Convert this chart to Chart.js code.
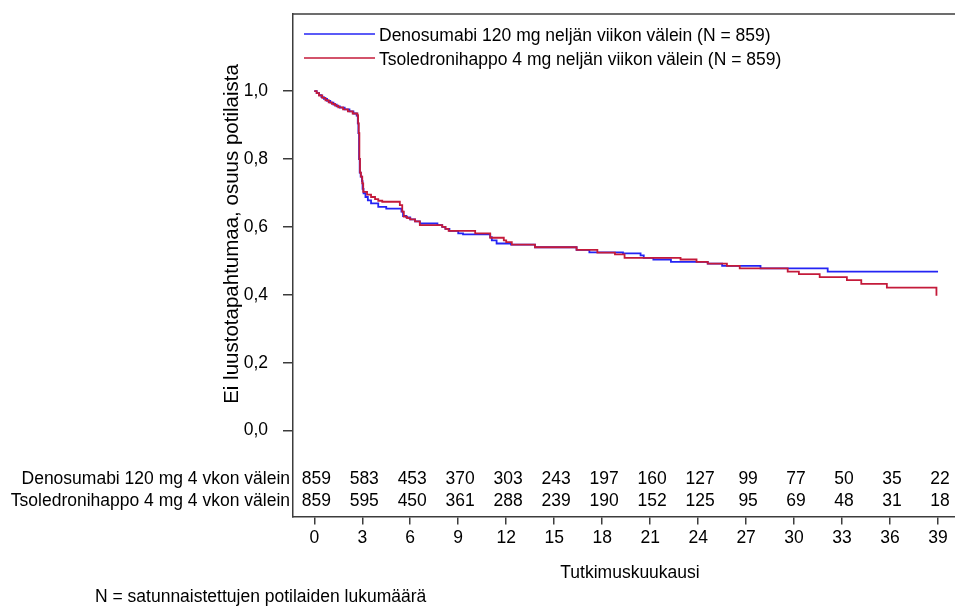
<!DOCTYPE html>
<html>
<head>
<meta charset="utf-8">
<script src="https://cdn.jsdelivr.net/npm/chart.js@4.4.1/dist/chart.umd.min.js"></script>
<style>
  html, body { margin: 0; padding: 0; background: #fff; }
  canvas { display: block; }
</style>
</head>
<body>
<canvas id="km" width="955" height="612"></canvas>
<script>
// Kaplan-Meier curves (month of step, survival after step)
const denoMonths = [0, 0.15, 0.3, 0.45, 0.6, 0.8, 1.0, 1.2, 1.4, 1.6, 1.9, 2.2, 2.45, 2.65, 2.72, 2.76, 2.8, 2.84, 2.9, 2.98, 3.02, 3.08,
  3.2, 3.35, 3.55, 4.0, 4.5, 5.45, 5.55, 5.75, 6.0, 6.3, 6.6, 7.7, 8.0, 8.2, 8.45, 9.0, 9.3, 11.0, 11.1, 11.4, 12.3, 13.8,
  16.4, 17.2, 19.3, 20.4, 20.6, 21.2, 22.3, 24.6, 25.5, 27.9, 32.1, 39.0];
const denoSurv = [1.0, 0.994, 0.988, 0.982, 0.977, 0.971, 0.966, 0.960, 0.955, 0.951, 0.946, 0.940, 0.934, 0.928, 0.905, 0.876, 0.80, 0.76, 0.748, 0.735, 0.712, 0.699,
  0.688, 0.678, 0.669, 0.659, 0.654, 0.645, 0.632, 0.628, 0.622, 0.616, 0.610, 0.605, 0.600, 0.594, 0.588, 0.581, 0.578, 0.570, 0.560, 0.551, 0.548, 0.540,
  0.532, 0.525, 0.522, 0.516, 0.509, 0.504, 0.497, 0.492, 0.485, 0.478, 0.468, 0.468];

const zolMonths = [0, 0.15, 0.3, 0.5, 0.7, 0.9, 1.1, 1.3, 1.5, 1.8, 2.1, 2.4, 2.7, 2.74, 2.78, 2.82, 2.86, 2.92, 3.0, 3.06,
  3.3, 3.55, 3.8, 4.0, 4.25, 5.35, 5.5, 5.6, 5.8, 6.0, 6.3, 6.6, 8.0, 8.2, 8.4, 10.06, 11.0, 11.85, 12.0, 12.35, 13.8,
  16.4, 17.7, 18.8, 19.4, 22.9, 23.9, 24.6, 25.8, 26.6, 29.6, 30.3, 31.6, 33.3, 34.2, 35.8, 38.9];
const zolSurv = [1.0, 0.994, 0.987, 0.980, 0.973, 0.967, 0.962, 0.957, 0.952, 0.946, 0.940, 0.934, 0.928, 0.905, 0.876, 0.80, 0.76, 0.748, 0.728, 0.703,
  0.695, 0.688, 0.682, 0.677, 0.674, 0.664, 0.645, 0.630, 0.626, 0.622, 0.616, 0.605, 0.600, 0.594, 0.588, 0.581, 0.568, 0.560, 0.555, 0.548, 0.540,
  0.532, 0.524, 0.519, 0.509, 0.504, 0.497, 0.492, 0.485, 0.478, 0.468, 0.461, 0.452, 0.443, 0.432, 0.421, 0.397];

// numbers at risk
const riskMonths = [0, 3, 6, 9, 12, 15, 18, 21, 24, 27, 30, 33, 36, 39];
const denoAtRisk = [859, 583, 453, 370, 303, 243, 197, 160, 127, 99, 77, 50, 35, 22];
const zolAtRisk = [859, 595, 450, 361, 288, 239, 190, 152, 125, 95, 69, 48, 31, 18];

const xTicks = [0, 3, 6, 9, 12, 15, 18, 21, 24, 27, 30, 33, 36, 39];
const yTicks = [0, 0.2, 0.4, 0.6, 0.8, 1.0];

const seriesNames = ["Denosumabi 120 mg neljän viikon välein (N = 859)", "Tsoledronihappo 4 mg neljän viikon välein (N = 859)"];
const riskNames = ["Denosumabi 120 mg 4 vkon välein", "Tsoledronihappo 4 mg 4 vkon välein"];

const FONT = "Liberation Sans, Arial, sans-serif";
const FSIZE = 17.5;
const BLUE = "#2424f4";
const RED = "#c41a3a";
const AXIS = "#3c3c3c";

function toPoints(xs, ys) {
    return xs.map((x, i) => ({ x: x, y: ys[i] }));
}

const decorations = {
    id: "decorations",
    afterDraw(chart) {
        const { ctx, chartArea, scales } = chart;
        const x = scales.x;
        ctx.save();

        // top frame line
        ctx.strokeStyle = AXIS;
        ctx.lineWidth = 1.5;
        ctx.beginPath();
        ctx.moveTo(chartArea.left, chartArea.top);
        ctx.lineTo(chartArea.right, chartArea.top);
        ctx.stroke();

        ctx.font = FSIZE + "px " + FONT;
        ctx.fillStyle = "#000";
        ctx.textBaseline = "middle";

        // legend inside plot
        const colors = [BLUE, RED];
        seriesNames.forEach((name, i) => {
            const ly = 34 + i * 24;
            ctx.strokeStyle = colors[i];
            ctx.lineWidth = 1.4;
            ctx.beginPath();
            ctx.moveTo(304, ly);
            ctx.lineTo(375, ly);
            ctx.stroke();
            ctx.textAlign = "left";
            ctx.fillText(name, 379, ly + 2);
        });

        // numbers at risk table
        const rows = [denoAtRisk, zolAtRisk];
        const rowY = [479, 501];
        rows.forEach((vals, r) => {
            ctx.textAlign = "right";
            ctx.fillText(riskNames[r], chartArea.left - 3, rowY[r]);
            ctx.textAlign = "center";
            vals.forEach((v, i) => {
                ctx.fillText(String(v), x.getPixelForValue(riskMonths[i]) + 2, rowY[r]);
            });
        });

        // axis titles
        ctx.textAlign = "center";
        ctx.fillText("Tutkimuskuukausi", 630, 573);
        ctx.textAlign = "left";
        ctx.fillText("N = satunnaistettujen potilaiden lukumäärä", 95, 597);

        ctx.font = "20.5px " + FONT;
        ctx.translate(232, 234);
        ctx.rotate(-Math.PI / 2);
        ctx.textAlign = "center";
        ctx.fillText("Ei luustotapahtumaa, osuus potilaista", 0, 0);

        ctx.restore();
    }
};

new Chart(document.getElementById("km"), {
    type: "line",
    data: {
        datasets: [
            {
                label: seriesNames[0],
                data: toPoints(denoMonths, denoSurv),
                borderColor: BLUE,
                borderWidth: 1.8,
                stepped: true,
                pointRadius: 0,
                fill: false,
                order: 1
            },
            {
                label: seriesNames[1],
                data: toPoints(zolMonths, zolSurv),
                borderColor: RED,
                borderWidth: 1.8,
                stepped: true,
                pointRadius: 0,
                fill: false,
                order: 0
            }
        ]
    },
    options: {
        responsive: false,
        animation: false,
        devicePixelRatio: 1,
        layout: { padding: { top: 14, right: 0, left: 0, bottom: 0 } },
        plugins: {
            legend: { display: false },
            tooltip: { enabled: false }
        },
        scales: {
            x: {
                type: "linear",
                min: -1.33,
                max: 40.06,
                afterBuildTicks: (scale) => { scale.ticks = xTicks.map(v => ({ value: v })); },
                afterFit: (scale) => {
                    scale.height = 95.5;
                    scale.paddingLeft = 0;
                    scale.paddingRight = 0;
                },
                ticks: {
                    color: "#000",
                    font: { family: FONT, size: FSIZE },
                    padding: 3,
                    maxRotation: 0,
                    autoSkip: false
                },
                grid: { drawOnChartArea: false, drawTicks: true, tickLength: 8, color: AXIS, lineWidth: 1.5 },
                border: { color: AXIS, width: 1.5 }
            },
            y: {
                min: -0.253,
                max: 1.227,
                afterBuildTicks: (scale) => { scale.ticks = yTicks.map(v => ({ value: v })); },
                afterFit: (scale) => {
                    scale.width = 293;
                    scale.paddingTop = 0;
                    scale.paddingBottom = 0;
                },
                ticks: {
                    color: "#000",
                    font: { family: FONT, size: FSIZE },
                    padding: 15,
                    callback: (v) => Number(v).toFixed(1).replace(".", ",")
                },
                grid: { drawOnChartArea: false, drawTicks: true, tickLength: 10, color: AXIS, lineWidth: 1.5 },
                border: { color: AXIS, width: 1.5 }
            }
        }
    },
    plugins: [decorations]
});
</script>
</body>
</html>
